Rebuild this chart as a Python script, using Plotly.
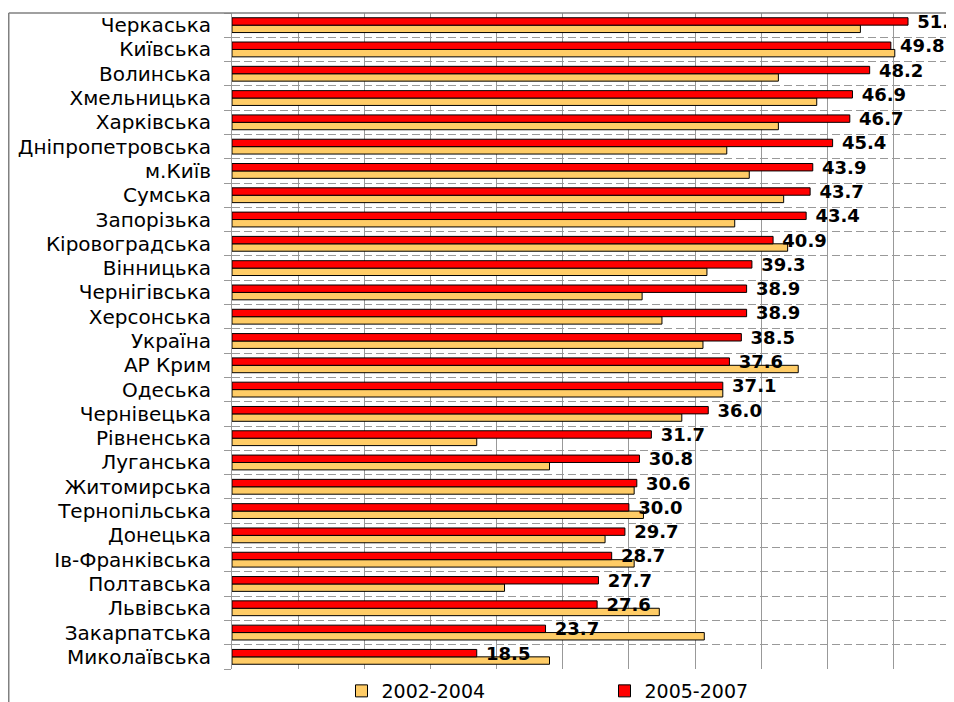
import plotly.graph_objects as go

categories = ["Черкаська", "Київська", "Волинська", "Хмельницька", "Харківська",
              "Дніпропетровська", "м.Київ", "Сумська", "Запорізька", "Кіровоградська",
              "Вінницька", "Чернігівська", "Херсонська", "Україна", "АР Крим",
              "Одеська", "Чернівецька", "Рівненська", "Луганська", "Житомирська",
              "Тернопільська", "Донецька", "Ів-Франківська", "Полтавська", "Львівська",
              "Закарпатська", "Миколаївська"]

values_2002_2004 = [47.5, 50.1, 41.3, 44.2, 41.3, 37.4, 39.1, 41.7, 38.0, 42.0,
                    35.9, 31.0, 32.5, 35.6, 42.8, 37.1, 34.0, 18.5, 24.0, 30.4,
                    31.1, 28.2, 30.4, 20.6, 32.3, 35.7, 24.0]

values_2005_2007 = [51.1, 49.8, 48.2, 46.9, 46.7, 45.4, 43.9, 43.7, 43.4, 40.9,
                    39.3, 38.9, 38.9, 38.5, 37.6, 37.1, 36.0, 31.7, 30.8, 30.6,
                    30.0, 29.7, 28.7, 27.7, 27.6, 23.7, 18.5]

series_names = ["2002-2004", "2005-2007"]

W, H = 954, 702
ML, MR, MT, MB = 224, 0, 5, 41
plot_w = W - ML - MR
plot_h = H - MT - MB

fig = go.Figure()
fig.add_trace(go.Bar(
    y=categories, x=values_2002_2004, orientation="h", name=series_names[0],
    marker=dict(color="#FFCC66", line=dict(color="#000000", width=1)),
    hoverinfo="x+y",
))
fig.add_trace(go.Bar(
    y=categories, x=values_2005_2007, orientation="h", name=series_names[1],
    marker=dict(color="#FF0000", line=dict(color="#000000", width=1)),
    texttemplate=" %{x:.1f}", textposition="outside", cliponaxis=False,
    constraintext="none",
    textfont=dict(family="DejaVu Sans", size=18, color="#000000", weight="bold"),
    hoverinfo="x+y",
))

gray = "#999999"
fig.update_layout(
    width=W, height=H,
    margin=dict(l=ML, r=MR, t=MT, b=MB, autoexpand=False),
    paper_bgcolor="white", plot_bgcolor="white",
    barmode="group", bargap=0.39, bargroupgap=0,
    font=dict(family="DejaVu Sans", size=18, color="#000000"),
    showlegend=True,
    legend=dict(orientation="h", x=0.15, xanchor="left", y=-0.0046, yanchor="top",
                font=dict(family="DejaVu Sans", size=19, color="#000000"),
                entrywidth=218, entrywidthmode="pixels",
                bgcolor="rgba(0,0,0,0)"),
    xaxis=dict(range=[0, 55.18], dtick=5, tick0=0, showgrid=True, gridcolor=gray,
               gridwidth=1, showticklabels=False, ticks="", zeroline=False,
               showline=False, fixedrange=True, automargin=False),
    yaxis=dict(categoryorder="array", categoryarray=categories[::-1],
               tickson="boundaries", ticks="outside", ticklen=7, tickcolor=gray,
               showgrid=True, gridcolor=gray, griddash="8px,4px", gridwidth=1,
               showline=True, linecolor=gray, linewidth=1,
               ticklabelstandoff=16, automargin=False,
               tickfont=dict(family="DejaVu Sans", size=20, color="#000000")),
)

# outer chart-area frame (top and left edges, the rest is cropped)
x_left = (0.75 - ML) / plot_w
fig.add_shape(type="line", xref="paper", yref="paper", x0=x_left, x1=1.01, y0=1, y1=1,
              line=dict(color="#808080", width=1.5))
fig.add_shape(type="line", xref="paper", yref="paper", x0=x_left, x1=x_left, y0=1,
              y1=-(MB + 5) / plot_h, line=dict(color="#808080", width=1.5))

fig.write_html("out.html")
